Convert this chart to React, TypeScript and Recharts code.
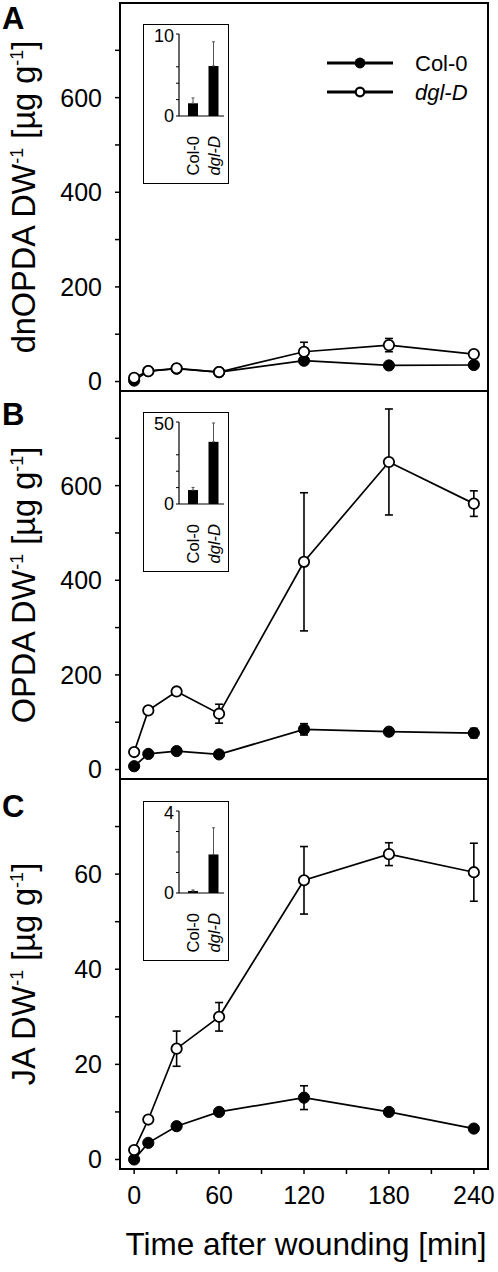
import React from 'react';
import { LineChart, Line, XAxis, YAxis, ErrorBar, ReferenceArea, BarChart, Bar } from 'recharts';

const FONT = '"Liberation Sans", Arial, Helvetica, sans-serif';

// ---- shared axis data ----
const times = [0, 10, 30, 60, 120, 180, 240];
const xTicks = [0, 30, 60, 90, 120, 150, 180, 210, 240];
const seriesNames = ['Col-0', 'dgl-D'];

// ---- Panel A: dnOPDA ----
const dnopdaCol0 = [2, 22, 27, 20, 44, 34, 35];
const dnopdaCol0Err = [1, 2, 2, 2, 4, 3, 3];
const dnopdaDgl = [8, 22, 28, 20, 63, 77, 58];
const dnopdaDglErr = [2, 3, 3, 3, 20, 14, 5];
const dnopdaTicks = [0, 100, 200, 300, 400, 500, 600, 700];

// ---- Panel B: OPDA ----
const opdaCol0 = [7, 33, 39, 32, 85, 80, 77];
const opdaCol0Err = [2, 3, 4, 3, 12, 6, 10];
const opdaDgl = [37, 125, 165, 118, 439, 650, 562];
const opdaDglErr = [4, 6, 8, 20, 146, 112, 27];
const opdaTicks = [0, 100, 200, 300, 400, 500, 600, 700];

// ---- Panel C: JA ----
const jaCol0 = [0, 3.5, 7, 10, 13, 10, 6.5];
const jaCol0Err = [0.2, 0.3, 0.4, 0.4, 2.5, 0.4, 0.4];
const jaDgl = [2, 8.4, 23.3, 30, 58.7, 64.2, 60.4];
const jaDglErr = [0.3, 0.3, 3.7, 3, 7.1, 2.4, 6.1];
const jaTicks = [0, 10, 20, 30, 40, 50, 60, 70];

// ---- Insets (unwounded) ----
const insetDnopda = [1.55, 6.1];
const insetDnopdaErr = [0.65, 2.95];
const insetDnopdaTicks = [0, 2, 4, 6, 8, 10];
const insetOpda = [8.5, 37.9];
const insetOpdaErr = [1.6, 11.5];
const insetOpdaTicks = [0, 10, 20, 30, 40, 50];
const insetJa = [0.1, 1.88];
const insetJaErr = [0.05, 1.3];
const insetJaTicks = [0, 1, 2, 3, 4];

function rows(a: number[], ae: number[], b: number[], be: number[]) {
  return times.map((t, i) => ({ t, col0: a[i], col0Err: ae[i], dgl: b[i], dglErr: be[i] }));
}
function insetRows(v: number[], e: number[]) {
  return seriesNames.map((name, i) => ({ name, v: v[i], e: [0, e[i]] }));
}

const InsetTick = (props: any) => {
  const { x, y, payload } = props;
  const italic = payload.value === 'dgl-D';
  return (
    <text
      x={x}
      y={y + 12}
      transform={`rotate(-90 ${x} ${y + 12})`}
      textAnchor="end"
      dy="0.36em"
      fontSize={16.5}
      fontFamily={FONT}
      fontStyle={italic ? 'italic' : 'normal'}
      fill="#000"
    >
      {payload.value}
    </text>
  );
};

function Inset({ left, top, v, e, ticks }: any) {
  const max = ticks[ticks.length - 1];
  return (
    <div
      style={{
        position: 'absolute', left, top, width: 86, height: 160,
        border: '1.5px solid #000', boxSizing: 'border-box', background: '#fff',
      }}
    >
      <BarChart width={83} height={157} data={insetRows(v, e)} margin={{ top: 9, right: 3, bottom: 0, left: 0 }}>
        <XAxis
          dataKey="name"
          tick={<InsetTick />}
          tickLine={false}
          axisLine={{ stroke: '#000', strokeWidth: 1.2 }}
          height={66}
          interval={0}
          padding={{ left: 4, right: 0 }}
        />
        <YAxis
          type="number"
          domain={[0, max]}
          ticks={ticks}
          width={35}
          tickSize={3}
          tickMargin={2}
          tickFormatter={(val: number) => (val === 0 || val === max ? String(val) : '')}
          tick={{ fill: '#000', fontSize: 18, fontFamily: FONT }}
          axisLine={{ stroke: '#000', strokeWidth: 1.2 }}
          tickLine={{ stroke: '#000', strokeWidth: 1 }}
        />
        <Bar dataKey="v" fill="#000" barSize={10} isAnimationActive={false}>
          <ErrorBar dataKey="e" width={1.5} stroke="#555" strokeWidth={1} direction="y" />
        </Bar>
      </BarChart>
    </div>
  );
}

function yLabel(main: string) {
  return (p: any) => {
    const vb = p.viewBox || { x: 0, y: 3, width: 120, height: 388 };
    const cx = 35;
    const cy = vb.y + vb.height / 2;
    return (
      <text
        x={cx}
        y={cy}
        transform={`rotate(-90 ${cx} ${cy})`}
        textAnchor="middle"
        fontSize={32.5}
        fontFamily={FONT}
        fill="#000"
      >
        {main} DW
        <tspan dy={-12} fontSize={18}>-1</tspan>
        <tspan dy={12}> [µg g</tspan>
        <tspan dy={-12} fontSize={18}>-1</tspan>
        <tspan dy={12}>]</tspan>
      </text>
    );
  };
}

const xLabel = (p: any) => {
  const vb = p.viewBox || { x: 120, y: 393, width: 368, height: 60 };
  return (
    <text x={vb.x + vb.width / 2 + 2} y={vb.y + 86} textAnchor="middle" fontSize={31.5} fontFamily={FONT} fill="#000">
      Time after wounding [min]
    </text>
  );
};

function Panel({ top, height, bottom, data, domain, ticks, step, label, showX }: any) {
  return (
    <div style={{ position: 'absolute', left: 0, top, width: 498, height }}>
      <LineChart width={498} height={height} data={data} margin={{ top: 3, right: 10, bottom, left: 0 }}>
        <XAxis
          dataKey="t"
          type="number"
          domain={[-10, 250]}
          allowDataOverflow
          ticks={xTicks}
          hide={!showX}
          height={showX ? 60 : 0}
          tickSize={5}
          tickMargin={12}
          tickFormatter={(v: number) => (v % 60 === 0 ? String(v) : '')}
          tick={{ fill: '#000', fontSize: 25, fontFamily: FONT }}
          axisLine={{ stroke: '#000', strokeWidth: 2 }}
          tickLine={{ stroke: '#000', strokeWidth: 1.5 }}
          label={showX ? xLabel : undefined}
        />
        <YAxis
          type="number"
          domain={domain}
          allowDataOverflow
          ticks={ticks}
          width={120}
          tickSize={5}
          tickMargin={13}
          tickFormatter={(v: number) => (v % step === 0 ? String(v) : '')}
          tick={{ fill: '#000', fontSize: 25, fontFamily: FONT }}
          axisLine={{ stroke: '#000', strokeWidth: 2 }}
          tickLine={{ stroke: '#000', strokeWidth: 1.5 }}
          label={yLabel(label)}
        />
        <ReferenceArea
          x1={-10}
          x2={250}
          y1={domain[0]}
          y2={domain[1]}
          fill="none"
          fillOpacity={0}
          stroke="#000"
          strokeWidth={2}
          ifOverflow="visible"
        />
        <Line
          dataKey="col0"
          type="linear"
          stroke="#000"
          strokeWidth={1.7}
          dot={{ r: 5.6, fill: '#000', stroke: '#000', strokeWidth: 1 }}
          activeDot={false}
          isAnimationActive={false}
        >
          <ErrorBar dataKey="col0Err" width={4} stroke="#000" strokeWidth={1.6} direction="y" />
        </Line>
        <Line
          dataKey="dgl"
          type="linear"
          stroke="#000"
          strokeWidth={1.7}
          dot={{ r: 5.2, fill: '#fff', stroke: '#000', strokeWidth: 1.8 }}
          activeDot={false}
          isAnimationActive={false}
        >
          <ErrorBar dataKey="dglErr" width={4} stroke="#000" strokeWidth={1.6} direction="y" />
        </Line>
      </LineChart>
    </div>
  );
}

export default function App() {
  return (
    <div style={{ position: 'absolute', left: 0, top: 0, width: 498, height: 1272, background: '#fff', fontFamily: FONT }}>
      <Panel top={0} height={400} bottom={9} data={rows(dnopdaCol0, dnopdaCol0Err, dnopdaDgl, dnopdaDglErr)}
        domain={[-20, 800]} ticks={dnopdaTicks} step={200} label="dnOPDA" showX={false} />
      <Panel top={388} height={400} bottom={9} data={rows(opdaCol0, opdaCol0Err, opdaDgl, opdaDglErr)}
        domain={[-20, 800]} ticks={opdaTicks} step={200} label="OPDA" showX={false} />
      <Panel top={776} height={496} bottom={43} data={rows(jaCol0, jaCol0Err, jaDgl, jaDglErr)}
        domain={[-2, 80]} ticks={jaTicks} step={20} label="JA" showX={true} />

      <Inset left={143} top={24} v={insetDnopda} e={insetDnopdaErr} ticks={insetDnopdaTicks} />
      <Inset left={143} top={412} v={insetOpda} e={insetOpdaErr} ticks={insetOpdaTicks} />
      <Inset left={143} top={801} v={insetJa} e={insetJaErr} ticks={insetJaTicks} />

      <svg width={498} height={1272} style={{ position: 'absolute', left: 0, top: 0, pointerEvents: 'none' }}>
        <g fontFamily={FONT} fontWeight="bold" fontSize={31} fill="#000">
          <text x={2} y={29}>A</text>
          <text x={2} y={425}>B</text>
          <text x={2} y={817}>C</text>
        </g>
        <g>
          <line x1={327} x2={393} y1={63} y2={63} stroke="#000" strokeWidth={2.8} />
          <circle cx={360} cy={63} r={5.4} fill="#000" />
          <text x={415} y={71} fontSize={22} fontFamily={FONT} fill="#000">{seriesNames[0]}</text>
          <line x1={327} x2={393} y1={92} y2={92} stroke="#000" strokeWidth={2.8} />
          <circle cx={360} cy={92} r={4.3} fill="#fff" stroke="#000" strokeWidth={2.3} />
          <text x={415} y={100} fontSize={22} fontFamily={FONT} fontStyle="italic" fill="#000">{seriesNames[1]}</text>
        </g>
      </svg>
    </div>
  );
}
